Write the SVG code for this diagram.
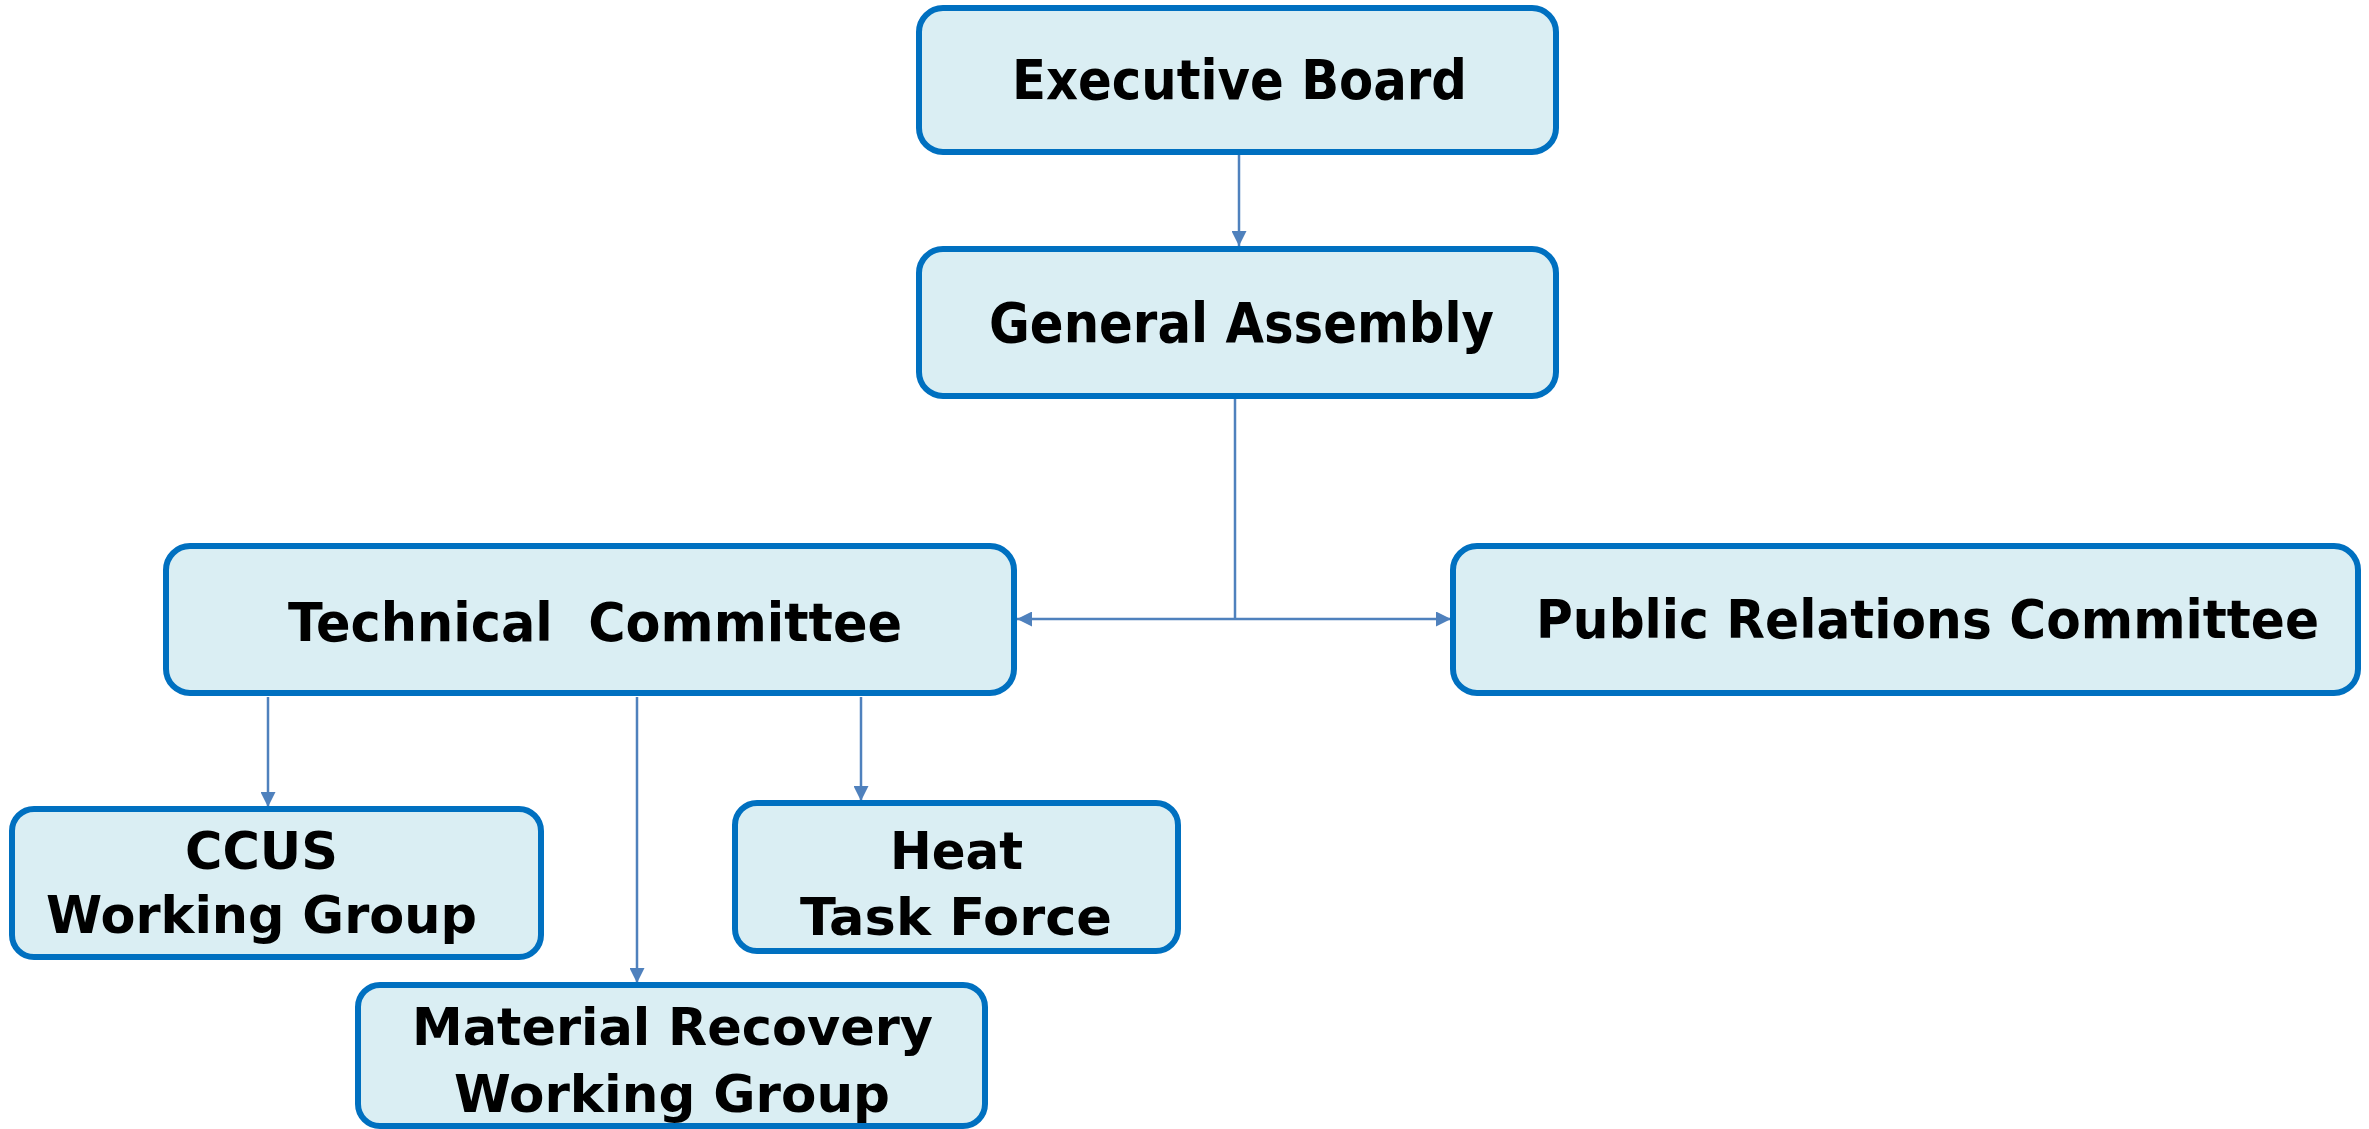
<svg xmlns="http://www.w3.org/2000/svg" width="2369" height="1129" viewBox="0 0 2369 1129">
<defs>
<style>
.box{fill:#DAEEF3;stroke:#0070C0;stroke-width:6}
.lbl{font-family:"DejaVu Sans","DejaVu Sans Condensed",Verdana,sans-serif;font-weight:bold;fill:#000;white-space:pre}
.conn{stroke:#4F81BD;stroke-width:2.5;fill:none}
</style>
<marker id="arr" viewBox="0 0 10 10" refX="10" refY="5" markerWidth="16" markerHeight="15" markerUnits="userSpaceOnUse" orient="auto-start-reverse">
<path d="M0,0 L10,5 L0,10 z" fill="#4F81BD"/>
</marker>
</defs>
<rect width="2369" height="1129" fill="#fff"/>
<g id="connectors">
<line class="conn" x1="1239" y1="154" x2="1239" y2="246" marker-end="url(#arr)"/>
<line class="conn" x1="1235" y1="398" x2="1235" y2="619"/>
<line class="conn" x1="1017" y1="619" x2="1451" y2="619" marker-start="url(#arr)" marker-end="url(#arr)"/>
<line class="conn" x1="268" y1="697" x2="268" y2="807" marker-end="url(#arr)"/>
<line class="conn" x1="637" y1="697" x2="637" y2="983" marker-end="url(#arr)"/>
<line class="conn" x1="861" y1="697" x2="861" y2="801" marker-end="url(#arr)"/>
</g>
<g id="executive-board">
<rect class="box" x="919" y="8" width="637" height="144" rx="24"/>
<text class="lbl" x="1012" y="99" font-size="55" textLength="455" lengthAdjust="spacingAndGlyphs">Executive Board</text>
</g>
<g id="general-assembly">
<rect class="box" x="919" y="249" width="637" height="147" rx="24"/>
<text class="lbl" x="989" y="342" font-size="56" textLength="505" lengthAdjust="spacingAndGlyphs">General Assembly</text>
</g>
<g id="technical-committee">
<rect class="box" x="166" y="546" width="848" height="147" rx="24"/>
<text class="lbl" x="288" y="641" font-size="54" textLength="614" lengthAdjust="spacingAndGlyphs">Technical  Committee</text>
</g>
<g id="public-relations-committee">
<rect class="box" x="1453" y="546" width="905" height="147" rx="24"/>
<text class="lbl" x="1536" y="638" font-size="53" textLength="783" lengthAdjust="spacingAndGlyphs">Public Relations Committee</text>
</g>
<g id="ccus-working-group">
<rect class="box" x="12" y="809" width="529" height="148" rx="22"/>
<text class="lbl" x="185" y="869" font-size="52" textLength="153" lengthAdjust="spacingAndGlyphs">CCUS</text>
<text class="lbl" x="46" y="933" font-size="52" textLength="431" lengthAdjust="spacingAndGlyphs">Working Group</text>
</g>
<g id="heat-task-force">
<rect class="box" x="735" y="803" width="443" height="148" rx="22"/>
<text class="lbl" x="890" y="869" font-size="52" textLength="133" lengthAdjust="spacingAndGlyphs">Heat</text>
<text class="lbl" x="800" y="935" font-size="52" textLength="312" lengthAdjust="spacingAndGlyphs">Task Force</text>
</g>
<g id="material-recovery-working-group">
<rect class="box" x="358" y="985" width="627" height="141" rx="22"/>
<text class="lbl" x="412" y="1045" font-size="52" textLength="521" lengthAdjust="spacingAndGlyphs">Material Recovery</text>
<text class="lbl" x="454" y="1112" font-size="52" textLength="436" lengthAdjust="spacingAndGlyphs">Working Group</text>
</g>
</svg>
